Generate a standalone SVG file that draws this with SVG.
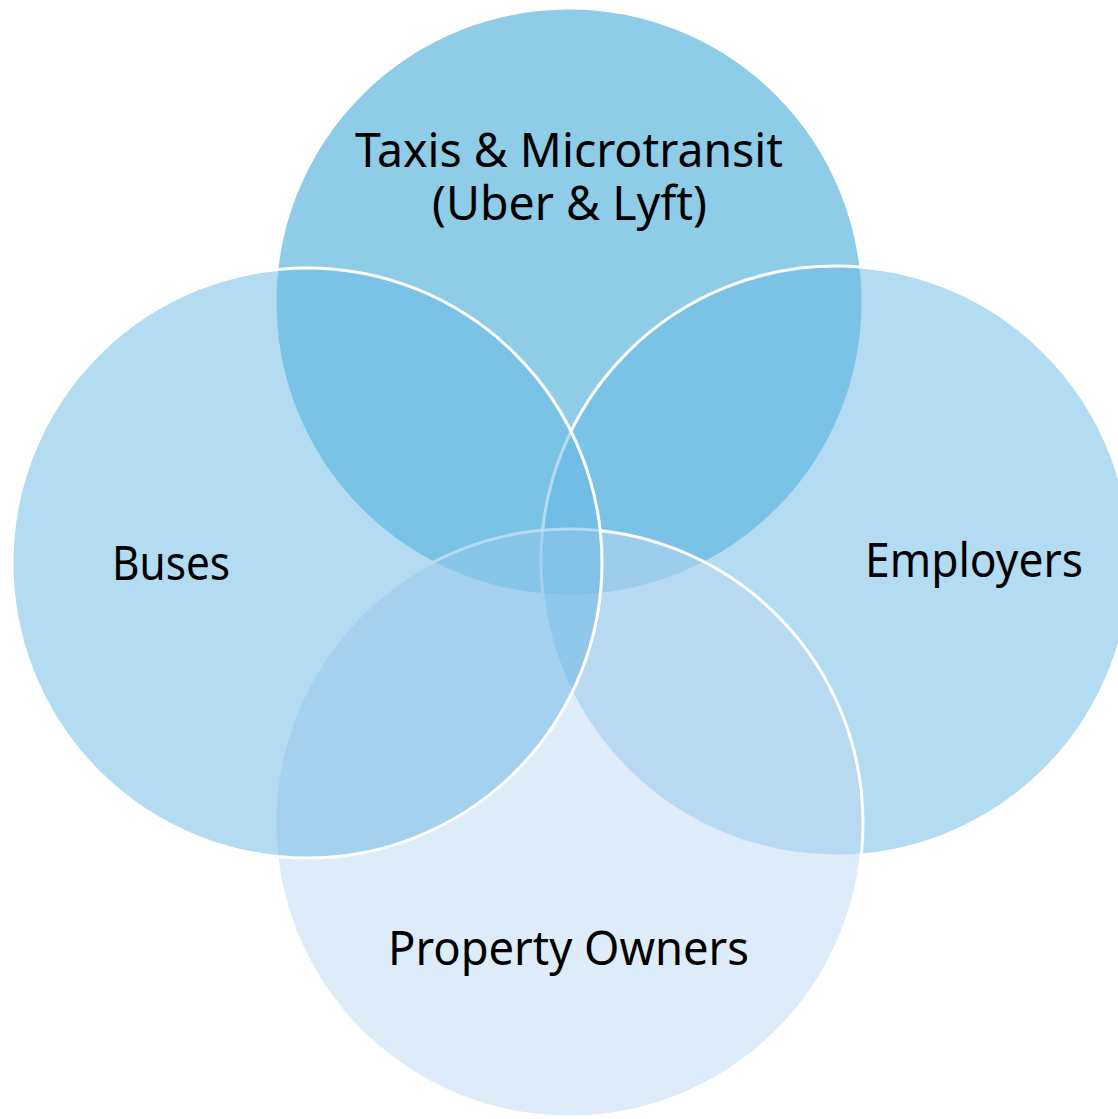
<svg xmlns="http://www.w3.org/2000/svg" width="1118" height="1119" viewBox="0 0 1118 1119">
<style>
.c{stroke:#ffffff;stroke-width:3}
.t{font-family:"Noto Sans","Open Sans","DejaVu Sans",sans-serif;font-size:48px;fill:#000000;text-anchor:middle}
</style>
<rect width="1118" height="1119" fill="#ffffff"/>
<g id="taxis">
<circle class="c" cx="569" cy="302" r="294" fill="rgb(29,153,209)" fill-opacity="0.5"/>
</g>
<g id="employers">
<circle class="c" cx="836" cy="561" r="295" fill="rgb(103,183,229)" fill-opacity="0.5"/>
</g>
<g id="property-owners">
<circle class="c" cx="569" cy="823" r="294" fill="rgb(189,215,241)" fill-opacity="0.5"/>
</g>
<g id="buses">
<circle class="c" cx="307" cy="563" r="295" fill="rgb(103,183,229)" fill-opacity="0.5"/>
</g>
<g id="labels">
<text class="t" x="569" y="167" textLength="428" lengthAdjust="spacingAndGlyphs">Taxis &amp; Microtransit</text>
<text class="t" x="569.5" y="220" textLength="275" lengthAdjust="spacingAndGlyphs">(Uber &amp; Lyft)</text>
<text class="t" x="171" y="580" textLength="118" lengthAdjust="spacingAndGlyphs">Buses</text>
<text class="t" x="974" y="577" textLength="218" lengthAdjust="spacingAndGlyphs">Employers</text>
<text class="t" x="568.5" y="965" textLength="361" lengthAdjust="spacingAndGlyphs">Property Owners</text>
</g>
<g id="connectors"></g>
</svg>
